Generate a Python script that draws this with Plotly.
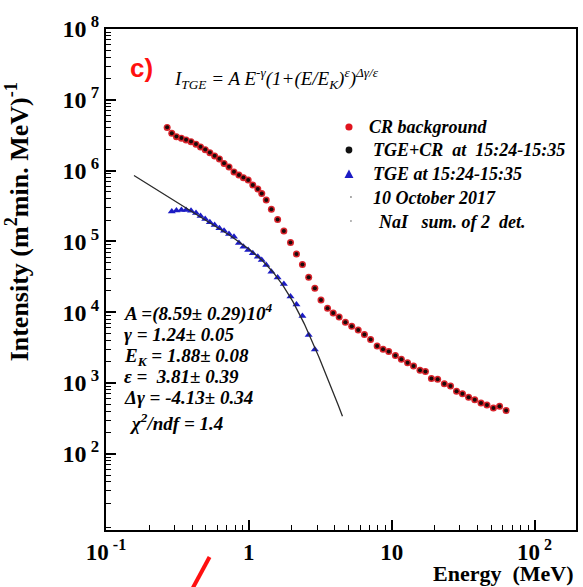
import numpy as np
import plotly.graph_objects as go

# ---- spectra (energy in MeV, intensity in (m^2 min MeV)^-1) ----
energy = [0.268, 0.2887, 0.3112, 0.3372, 0.3635, 0.3937, 0.4265, 0.4589, 0.4950, 0.5334,
          0.5760, 0.6220, 0.6706, 0.7262, 0.7868, 0.852, 0.916, 0.989, 1.066, 1.155,
          1.231, 1.323, 1.438, 1.590, 1.758, 1.957, 2.154, 2.371, 2.623, 2.896,
          3.198, 3.554, 3.893, 4.285, 4.740, 5.250, 5.826, 6.442, 7.115, 7.906,
          8.70, 9.53, 10.61, 11.68, 12.91, 14.22, 15.77, 17.22, 18.96, 20.97,
          23.34, 25.81, 28.42, 31.27, 34.53, 38.13, 42.17, 46.42, 51.51, 56.88, 63.20]

cr_background = [4.06e6, 3.36e6, 3.01e6, 2.86e6, 2.70e6, 2.56e6, 2.35e6, 2.15e6, 1.97e6, 1.79e6,
                 1.61e6, 1.46e6, 1.26e6, 1.12e6, 9.55e5, 8.67e5, 7.94e5, 7.37e5, 6.26e5, 5.50e5,
                 4.75e5, 3.85e5, 2.84e5, 2.04e5, 1.40e5, 9.64e4, 6.64e4, 4.72e4, 3.11e4, 2.18e4,
                 1.49e4, 1.14e4, 9.75e3, 8.55e3, 7.23e3, 6.32e3, 5.61e3, 4.84e3, 4.11e3, 3.33e3,
                 2.99e3, 2.79e3, 2.44e3, 2.16e3, 1.94e3, 1.74e3, 1.51e3, 1.45e3, 1.16e3, 1.13e3,
                 977, 907, 766, 703, 630, 581, 522, 489, 443, 469, 409]

tge_plus_cr = [4.08e6, 3.38e6, 3.03e6, 2.88e6, 2.72e6, 2.58e6, 2.37e6, 2.17e6, 1.98e6, 1.80e6,
               1.62e6, 1.47e6, 1.27e6, 1.13e6, 9.60e5, 8.70e5, 7.96e5, 7.39e5, 6.27e5, 5.51e5,
               4.76e5, 3.85e5, 2.84e5, 2.04e5, 1.40e5, 9.64e4, 6.64e4, 4.72e4, 3.11e4, 2.18e4,
               1.49e4, 1.14e4, 9.75e3, 8.55e3, 7.23e3, 6.32e3, 5.61e3, 4.84e3, 4.11e3, 3.33e3,
               2.99e3, 2.79e3, 2.44e3, 2.16e3, 1.94e3, 1.74e3, 1.51e3, 1.45e3, 1.16e3, 1.13e3,
               977, 907, 766, 703, 630, 581, 522, 489, 443, 469, 409]

tge_energy = energy[1:30]
tge = [2.64e5, 2.73e5, 2.78e5, 2.78e5, 2.70e5, 2.52e5, 2.29e5, 2.07e5, 1.86e5, 1.71e5,
       1.53e5, 1.42e5, 1.27e5, 1.16e5, 9.49e4, 8.41e4, 7.56e4, 6.79e4, 6.08e4, 5.46e4,
       4.64e4, 3.73e4, 3.09e4, 2.50e4, 1.67e4, 1.28e4, 8.83e3, 4.76e3, 2.97e3]

# ---- fit parameters of I = A E^-g (1 + (E/Ek)^eps)^(dg/eps) ----
fit_A, fit_gamma, fit_Ek, fit_eps, fit_dgamma = 8.59e4, 1.24, 1.88, 3.81, -4.13
fit_range = [0.157, 4.52]

x_tickvals = [0.1, 1, 10, 100]
x_ticktext = ["10<sup>\u00a0-1</sup>", "1", "10", "10<sup>\u00a02</sup>"]
y_exponents = [2, 3, 4, 5, 6, 7, 8]

fit_E = np.geomspace(fit_range[0], fit_range[1], 200)
fit_I = fit_A * fit_E ** (-fit_gamma) * (1 + (fit_E / fit_Ek) ** fit_eps) ** (fit_dgamma / fit_eps)

SERIF = "Liberation Serif"

fig = go.Figure()
fig.add_trace(go.Scatter(x=energy, y=cr_background, mode="markers", name="CR background",
                         marker=dict(symbol="circle", size=7, color="#d8232b", line=dict(width=0))))
fig.add_trace(go.Scatter(x=energy, y=tge_plus_cr, mode="markers", name="TGE+CR",
                         marker=dict(symbol="circle", size=4, color="#1a0a0a", line=dict(width=0))))
fig.add_trace(go.Scatter(x=tge_energy, y=tge, mode="markers", name="TGE",
                         marker=dict(symbol="triangle-up", size=7, color="#1c1cc4", line=dict(width=0))))
fig.add_trace(go.Scatter(x=fit_E, y=fit_I, mode="lines", name="fit",
                         line=dict(color="#2a2a2a", width=1.3)))

# plot area in pixels: x 106..578, y 29..530
L, R, T, B = 106, 578, 29, 530


def px(X):
    return (X - L) / (R - L)


def py(Y):
    return (B - Y) / (B - T)


minor_x = [m * 10.0 ** d for d in range(-1, 3) for m in range(2, 10)]
minor_y = [m * 10.0 ** d for d in range(0, 8) for m in range(2, 10)]

fig.update_xaxes(type="log", range=[-1, 2.29], tickvals=x_tickvals, ticktext=x_ticktext,
                 ticks="inside", ticklen=10, tickwidth=1.5, tickcolor="black",
                 showline=True, linecolor="black", linewidth=2, mirror=True,
                 showgrid=False, zeroline=False,
                 tickfont=dict(family=SERIF, size=23, color="black", weight="bold"),
                 minor=dict(tickmode="array", tickvals=minor_x, ticks="inside", ticklen=5,
                            tickwidth=1.2, tickcolor="black", showgrid=False))
fig.update_yaxes(type="log", range=[0.924, 8], tickvals=[10 ** e for e in y_exponents],
                 ticktext=["10<sup>\u00a0%d</sup>" % e for e in y_exponents],
                 ticks="inside", ticklen=10, tickwidth=1.5, tickcolor="black",
                 showline=True, linecolor="black", linewidth=2, mirror=True,
                 showgrid=False, zeroline=False,
                 tickfont=dict(family=SERIF, size=24, color="black", weight="bold"),
                 minor=dict(tickmode="array", tickvals=minor_y, ticks="inside", ticklen=5,
                            tickwidth=1.2, tickcolor="black", showgrid=False))

ann = []


def text(X, Y, s, size, xanchor="left", bold=True, italic=False, color="black",
         family=SERIF, angle=0):
    ann.append(dict(x=px(X), y=py(Y), xref="paper", yref="paper", text=s, showarrow=False,
                    xanchor=xanchor, yanchor="middle", textangle=angle,
                    font=dict(family=family, size=size, color=color,
                              weight="bold" if bold else "normal",
                              style="italic" if italic else "normal")))


# axis titles
text(18, 222, "Intensity (m<sup>2</sup>min. MeV)<sup>-1</sup>", 26, xanchor="center", angle=-90)
text(578, 573, "Energy\u00a0 (MeV)", 22, xanchor="right")

# panel tag and fitted formula
text(128, 68, "c)", 26, family="Liberation Sans", color="#ff1010")
text(172, 78, "I<sub>TGE</sub> = A E<sup>-\u03b3</sup>(1+(E/E<sub>K</sub>)<sup>\u03b5</sup>)"
     "<sup>\u0394\u03b3/\u03b5</sup>", 19, bold=False, italic=True)

# fit results
text(122, 312, "A =(8.59\u00b1 0.29)10<sup>4</sup>", 19, italic=True)
text(122, 335, "\u03b3 = 1.24\u00b1 0.05", 19, italic=True)
text(122, 357, "E<sub>K</sub> = 1.88\u00b1 0.08", 19, italic=True)
text(122, 377, "\u03b5 =\u00a0 3.81\u00b1 0.39", 19, italic=True)
text(122, 397, "\u0394\u03b3 = -4.13\u00b1 0.34", 19, italic=True)
text(127, 422, "\u03c7<sup>2</sup>/ndf = 1.4", 19, italic=True)

# legend entries
text(368, 127, "CR background", 18, italic=True)
text(372, 150, "TGE+CR\u00a0 at\u00a0 15:24-15:35", 18, italic=True)
text(372, 174, "TGE at 15:24-15:35", 18, italic=True)
text(372, 198, "10 October 2017", 18, italic=True)
text(377, 222, "NaI\u00a0\u00a0 sum. of 2\u00a0 det.", 18, italic=True)

shapes = []


def dot(X, Y, r, color):
    shapes.append(dict(type="circle", xref="paper", yref="paper",
                       x0=px(X - r), x1=px(X + r), y0=py(Y + r), y1=py(Y - r),
                       fillcolor=color, line=dict(width=0)))


dot(350, 127, 3.6, "#e0141e")
dot(350, 150, 3.4, "#111111")
dot(352, 197, 0.9, "#888888")
dot(352, 221, 0.9, "#999999")
tri = [(350, 169.5), (354.5, 178), (345.5, 178)]
shapes.append(dict(type="path", xref="paper", yref="paper",
                   path="M %f,%f L %f,%f L %f,%f Z" % tuple(v for p in tri for v in (px(p[0]), py(p[1]))),
                   fillcolor="#1c1cc4", line=dict(width=0)))
# red pointer stroke below the axis
shapes.append(dict(type="line", xref="paper", yref="paper",
                   x0=px(210), y0=py(557), x1=px(191), y1=py(592),
                   line=dict(color="#ff1010", width=4)))

fig.update_layout(width=583, height=587, margin=dict(l=L, r=583 - R, t=T, b=587 - B),
                  plot_bgcolor="white", paper_bgcolor="white", showlegend=False,
                  annotations=ann, shapes=shapes)

fig.write_html("out.html")
